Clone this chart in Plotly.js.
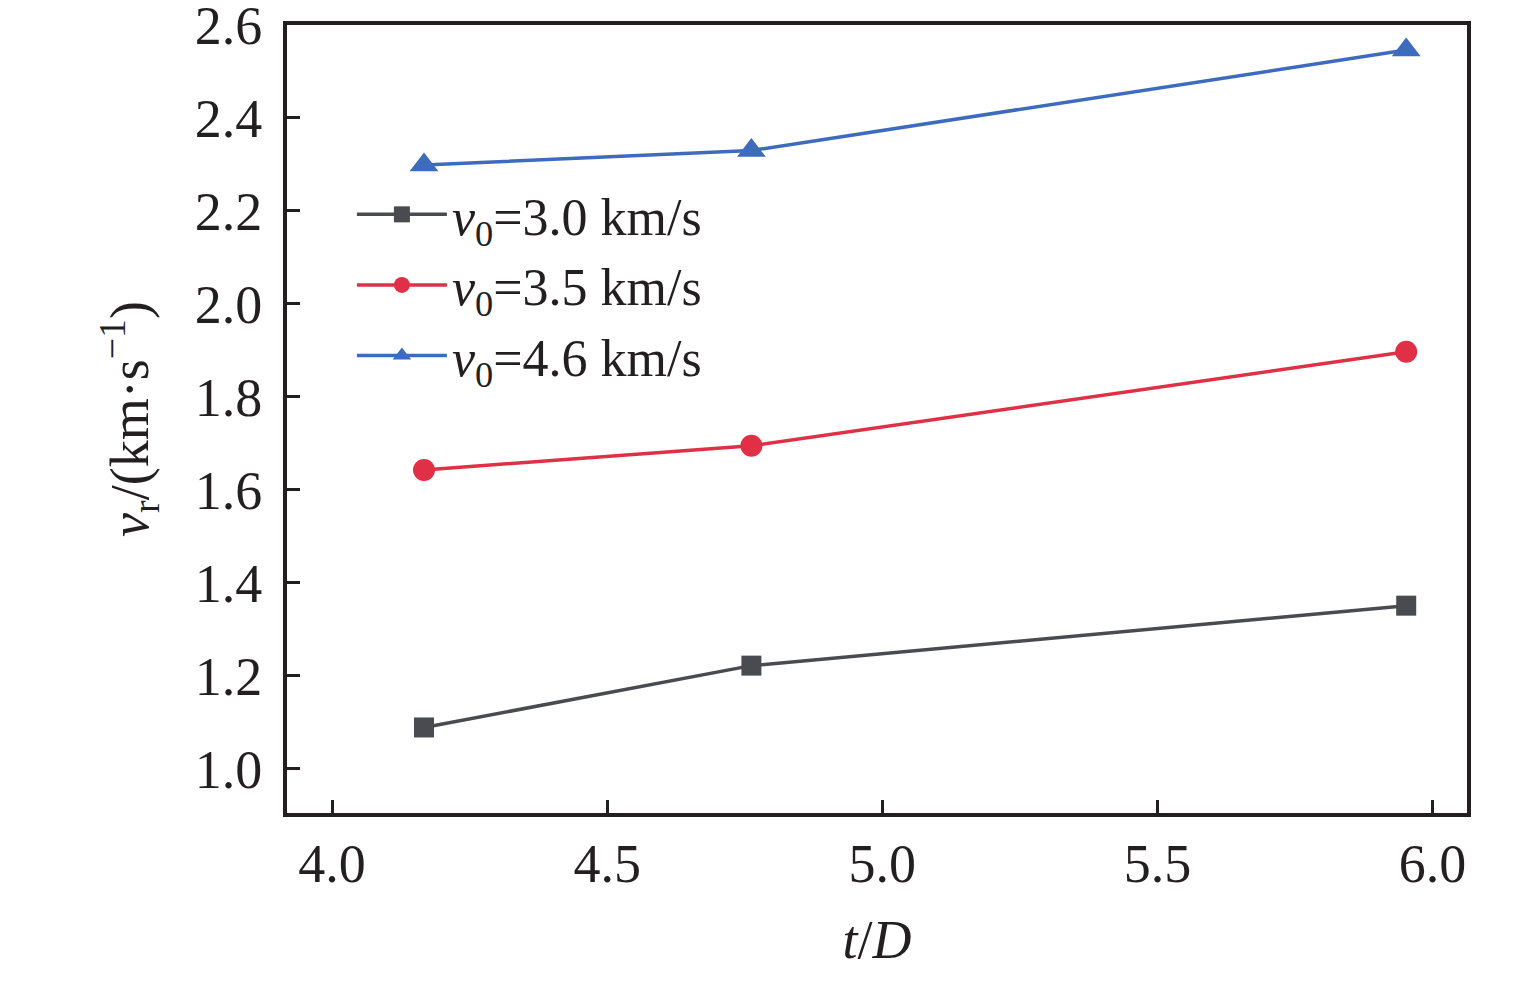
<!DOCTYPE html>
<html>
<head>
<meta charset="utf-8">
<script src="https://cdn.plot.ly/plotly-3.0.1.min.js"></script>
<style>
  html, body { margin: 0; padding: 0; background: #fff; }
  #chart { width: 1535px; height: 981px; }
</style>
</head>
<body>
<div id="chart"></div>
<script>
// t/D values, shared by all three series
const tD = [4.167, 4.762, 5.952];

// residual velocity v_r (km/s) for each initial velocity
const vr30 = [1.089, 1.222, 1.351];
const vr35 = [1.643, 1.695, 1.897];
const vr46 = [2.299, 2.330, 2.546];

const names = [
  '<i>v</i><sub>0</sub>=3.0 km/s',
  '<i>v</i><sub>0</sub>=3.5 km/s',
  '<i>v</i><sub>0</sub>=4.6 km/s'
];

const xTicks = [4.0, 4.5, 5.0, 5.5, 6.0];
const yTicks = [1.0, 1.2, 1.4, 1.6, 1.8, 2.0, 2.2, 2.4, 2.6];

const font = 'Liberation Serif, Times New Roman, serif';
const axisColor = '#231f20';

function series(y, name, color, symbol, size) {
  return {
    x: tD, y: y, name: name,
    type: 'scatter', mode: 'lines+markers',
    line: {color: color, width: 3.5},
    marker: {color: color, symbol: symbol, size: size}
  };
}

const data = [
  series(vr30, names[0], '#4a4b50', 'square', 20),
  series(vr35, names[1], '#e03046', 'circle', 22),
  series(vr46, names[2], '#3d6bbd', 'triangle-up', 25)
];

const axisBase = {
  showgrid: false, zeroline: false,
  showline: true, linecolor: axisColor, linewidth: 4, mirror: true,
  ticks: 'inside', ticklen: 13, tickwidth: 3, tickcolor: axisColor,
  ticklabeloverflow: 'allow',
  tickfont: {family: font, size: 54, color: axisColor}
};

const layout = {
  width: 1535, height: 981,
  margin: {l: 287, r: 68, t: 25, b: 168},
  paper_bgcolor: '#fff', plot_bgcolor: '#fff',
  font: {family: font, color: axisColor},
  showlegend: true,
  legend: {
    x: 0.055, y: 0.67, xanchor: 'left', yanchor: 'middle',
    bgcolor: 'rgba(0,0,0,0)', borderwidth: 0,
    font: {family: font, size: 52, color: axisColor},
    itemwidth: 90
  },
  xaxis: Object.assign({}, axisBase, {
    range: [3.918, 6.0625],
    tickvals: xTicks, ticktext: xTicks.map(v => v.toFixed(1)),
    ticklabelstandoff: 0,
    title: {text: '<i>t</i>/<i>D</i>', font: {family: font, size: 54, color: axisColor}, standoff: 28}
  }),
  yaxis: Object.assign({}, axisBase, {
    range: [0.905, 2.6],
    tickvals: yTicks, ticktext: yTicks.map(v => v.toFixed(1)),
    ticklabelstandoff: 10,
    title: {text: '<i>v</i><sub>r</sub>/(km·s<sup>−1</sup>)', font: {family: font, size: 54, color: axisColor}, standoff: 30}
  })
};

Plotly.newPlot('chart', data, layout, {displayModeBar: false, staticPlot: true});
</script>
</body>
</html>
